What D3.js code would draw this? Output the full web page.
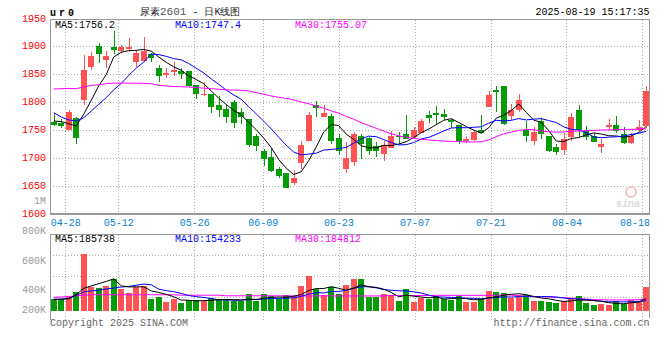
<!DOCTYPE html>
<html>
<head>
<meta charset="utf-8">
<script src="https://cdn.jsdelivr.net/npm/d3@7/dist/d3.min.js"></script>
<style>
  body { margin: 0; background: #fff; }
  svg { display: block; }
  text { font-family: "Liberation Mono", "DejaVu Sans Mono", monospace; font-size: 10px; }
</style>
</head>
<body>
<div id="chart"></div>
<script>
// 尿素2601 daily K-line

// trading days shown
var dates = ["04-24","04-25","04-28","04-29","04-30","05-06","05-07","05-08","05-09","05-12",
  "05-13","05-14","05-15","05-16","05-19","05-20","05-21","05-22","05-23","05-26",
  "05-27","05-28","05-29","05-30","06-03","06-04","06-05","06-06","06-09","06-10",
  "06-11","06-12","06-13","06-16","06-17","06-18","06-19","06-20","06-23","06-24",
  "06-25","06-26","06-27","06-30","07-01","07-02","07-03","07-04","07-07","07-08",
  "07-09","07-10","07-11","07-14","07-15","07-16","07-17","07-18","07-21","07-22",
  "07-23","07-24","07-25","07-28","07-29","07-30","07-31","08-01","08-04","08-05",
  "08-06","08-07","08-08","08-11","08-12","08-13","08-14","08-15","08-18","08-19"];

var opens = [1764.5,1762,1749,1771.6,1804.5,1862.4,1901,1875,1899.4,1892,
  1896,1871.3,1874.3,1886,1861,1849,1854,1855,1855,1831,
  1813,1815,1795.5,1788,1800,1782,1770.5,1739,1712,1701,
  1679,1672.6,1654.6,1690.5,1730,1795.5,1773,1775,1736.4,1679,
  1692,1739.4,1736,1721.5,1706,1716.7,1739.4,1742,1737,1744.8,
  1776.4,1781,1778,1767,1758,1731,1732.8,1750.7,1790.7,1822.4,
  1829.6,1774.6,1786.6,1750.7,1729.9,1765.7,1740,1718.5,1713.7,1737,
  1786.6,1747.8,1740,1719,1754.9,1759.7,1741.8,1726.3,1749,1756.7];

var highs = [1780,1770,1786.5,1773,1884,1889,1906,1891,1928,1903,
  1915,1894,1917,1888,1866,1862,1872,1861,1855,1831,
  1836,1815,1810.5,1795.5,1804,1789.5,1770.5,1742,1715.5,1716.7,
  1683,1672.6,1678.5,1730,1782.4,1801.5,1795.5,1779,1742,1727.5,
  1746.6,1742,1738,1728.6,1730,1747.7,1746.6,1776.4,1756,1770.5,
  1783.6,1792.5,1788,1770.5,1758,1740,1750,1776.4,1820.6,1829.6,
  1829.6,1797.3,1815.2,1765.7,1755.5,1771.6,1740,1724,1743.6,1780.6,
  1794.3,1756.7,1744.8,1733,1770.5,1774.6,1755,1744.8,1768.7,1828.4];

var lows = [1757,1754,1749,1724,1794.3,1858,1870,1861,1886,1887.5,
  1889,1863,1874,1872,1835.5,1843,1846,1842,1826.5,1806,
  1810.5,1781,1773,1763,1754,1761.5,1719,1713,1685,1673.6,
  1663,1645,1652,1680,1730,1773,1773,1725,1705,1672.5,
  1685,1697.6,1705,1701,1694,1716.7,1724,1734.6,1736,1744,
  1762.7,1759.7,1767,1753.7,1724,1725.7,1731,1744.8,1790.7,1781.8,
  1759.7,1768.7,1782.4,1728,1722.7,1734.6,1709.6,1704.8,1704.8,1729.9,
  1737,1732.8,1728,1708,1749,1744.8,1725,1724,1747.8,1753.7];

var closes = [1758.5,1757,1782.4,1735.2,1858.2,1883.3,1887,1883,1894,1899.4,
  1899.4,1888.7,1891,1878.5,1847.5,1851.5,1857,1850,1829,1815,
  1815,1790.7,1785,1773,1762,1774,1723,1720.3,1697,1677,
  1666.6,1645.7,1663.6,1722.7,1776.4,1789,1781,1730,1712,1700,
  1742,1724,1712,1712,1722.7,1739.4,1737,1734.6,1749,1765.7,
  1771,1777.6,1773,1764,1731,1734.6,1746,1744.8,1813.4,1817.6,
  1761,1786.6,1804.5,1738.8,1746.6,1741.8,1713,1710,1734.6,1773.4,
  1750.7,1737,1728,1724,1758.5,1747.8,1726.3,1738.8,1756,1819.4];

// moving average lines as drawn
var ma5 = [1766,1765,1761,1757,1778.3,1803.2,1829.2,1849.3,1881.1,1889.3,
  1892.5,1892.8,1894.5,1891.4,1881,1871.4,1863.2,1857,1847,1840.5,
  1833,1819.9,1806.9,1795.7,1785.1,1776.9,1763.4,1750.5,1735.3,1718.3,
  1696.8,1681.3,1670,1675.1,1695,1719.5,1746.5,1759.8,1757.7,1742.4,
  1733,1721.6,1718,1718,1722.5,1722,1724.6,1729.1,1736.5,1745.1,
  1751.5,1759.6,1767.3,1770.3,1763.3,1756,1749.7,1744.1,1754,1771.3,
  1776.6,1784.7,1796.6,1781.7,1767.5,1763.7,1748.9,1730,1729.2,1734.6,
  1736.3,1741.1,1744.7,1742.6,1739.6,1739.1,1736.9,1739.1,1745.5,1756.2];

var ma10 = [1781,1773,1768,1766,1772,1784,1796,1808,1822,1833.5,
  1847.8,1861,1871.9,1886.2,1885.2,1882,1878,1875.8,1869.2,1860.8,
  1852.2,1841.6,1832,1821.4,1812.8,1805,1791.7,1778.7,1765.5,1751.7,
  1736.9,1722.4,1710.3,1705.2,1706.7,1708.2,1713.9,1714.9,1716.4,1718.7,
  1726.3,1734,1738.9,1737.9,1732.5,1727.5,1723.1,1723.6,1727.3,1733.8,
  1736.8,1742.1,1748.2,1753.4,1754.2,1753.8,1754.7,1755.7,1762.2,1767.3,
  1766.3,1767.2,1770.4,1767.9,1769.4,1770.2,1766.8,1763.3,1755.5,1751.1,
  1750,1745,1737.4,1735.9,1737.1,1737.7,1739,1741.9,1744.1,1747.4];

var ma30 = [1823.5,1824,1824.5,1824,1827,1830,1831,1833,1834,1834,
  1834,1834,1833.5,1833,1830,1829,1828,1827.5,1827,1826,
  1825,1824,1823,1822,1821.5,1821,1820,1817,1814,1811,
  1808.5,1806.5,1804,1800,1797,1793,1789,1784,1780,1774,
  1769,1763,1758,1753,1748,1743,1739.6,1736.5,1735,1733,
  1732,1731,1730,1729.5,1729,1728.5,1728.3,1729,1732,1738,
  1743,1746,1749,1751,1750.5,1748,1747,1746,1746.5,1747.5,
  1748,1748.6,1749,1750,1750,1750.5,1751,1751,1751.5,1752];

// volume, thousand lots
var volumes = [338.5,338.5,352,389.5,642.5,419,414,428,475,407.6,
  383,419,425.8,340.5,354,320.4,338.5,313.7,333.8,333.8,
  329,347,338.5,338.5,325,325,374,325,374,358.6,
  338.5,365.4,360.7,428,495,405.6,365.4,421,374,434.5,
  475,475,354,354,374,365.4,329,407.6,320.4,347,
  338.5,358.6,338.5,333.8,362.7,320.4,320.4,347,396,389.5,
  380.8,347,365.4,365.4,329,329,320.4,313.7,329,347,
  358.6,313.7,300,307,300,329,307,333.8,329,421];

var volMa5 = [338.5,339,342,370,412.2,428.3,443.4,458.6,475.7,428.7,
  421.5,422.5,422.1,395.2,384.5,371.9,355.8,333.4,332.1,328,
  329.8,331.5,336.4,337.4,335.6,334.8,340.2,337.5,344.6,351.3,
  354,352.3,359.4,370.2,397.5,410.9,410.9,423,412.2,400.1,
  414,435.9,422.5,418.5,406.4,384.5,355.3,366,359.3,353.9,
  348.5,354.4,340.6,343.3,346.4,342.8,335.2,336.9,349.3,354.7,
  366.7,372.1,375.7,369.6,357.5,347.2,341.8,331.5,324.2,327.8,
  333.7,332.4,329.7,325.3,315.9,309.9,308.6,315.4,319.8,344];

var volMa10 = [338,340,345,365,389,395,400,408,414,420.5,
  424.9,433,440.4,435.5,406.6,396.7,389.2,377.8,363.7,356.3,
  350.9,343.7,334.9,334.8,331.8,332.3,335.9,337,341,343.5,
  344.4,346.3,348.5,357.4,374.4,382.5,381.6,391.2,391.2,398.8,
  412.5,423.4,422.8,415.4,403.3,399.3,395.6,394.3,388.9,380.2,
  366.5,354.9,353.3,351.3,350.2,345.7,344.8,338.8,346.3,350.6,
  354.8,353.7,356.3,359.5,356.1,357,357,353.6,346.9,342.7,
  340.5,337.1,330.6,324.8,321.9,321.8,320.5,322.6,322.6,330];

var volMa30 = [352,354,357,362,366,369,369,369,369,369,
  369,369,369,369,369,369,369,366,366,366,
  366,366,366,362,362,362,362,362,362,362,
  362,361,361,361,361,361,362,361,361,361,
  361,361,361,361,361,364,364,364,364,364,
  364,365,365,365,365,365,365,365,365,365,
  370,366,362,358,356,355,354,352,349,346,
  343,340,337,335,334,334,334,335,336,338];

var priceTicks = [1600,1650,1700,1750,1800,1850,1900,1950];
var priceGrid = [1650,1700,1750,1800,1850,1900];
var volTicks = [200,400,600,800,1000];
var dateTicks = ["04-28","05-12","05-26","06-09","06-23","07-07","07-21","08-04","08-18"];

var mono = "Liberation Mono, DejaVu Sans Mono, monospace";
var upColor = "#ff5353";
var downColor = "#079b07";

// panel edges
var left = 50, right = 649.5;
var mainTop = 19.5, mainBottom = 213.5;
var volTop = 234.5, volBottom = 317.5, volBase = 311;

var svg = d3.select("#chart")
  .append("svg")
  .attr("width", 660)
  .attr("height", 360);

// scales
var xBand = d3.scaleBand().domain(dates).range([50, 650]).paddingInner(0.2).paddingOuter(0.1);
var xGrid = d3.scalePoint().domain(dates).range([50, 650]);
var yPrice = d3.scaleLinear().domain([1600, 1950]).range([213.5, 18.5]);
var yVol = d3.scaleLinear().domain([262, 1000]).range([310.7, 200.7]);

function xLeft(d) { return Math.round(xBand(d)); }
function xMid(i) { return xBand(dates[i]) + xBand.bandwidth() / 2; }

// grid lines
var grid = svg.append("g")
  .attr("stroke", "#aaa")
  .attr("stroke-dasharray", "1,2")
  .attr("shape-rendering", "crispEdges");

grid.selectAll("line.hp").data(priceGrid).enter()
  .append("line")
  .attr("x1", left).attr("x2", right)
  .attr("y1", function(d) { return Math.round(yPrice(d)) + 0.5; })
  .attr("y2", function(d) { return Math.round(yPrice(d)) + 0.5; });

grid.selectAll("line.hv").data([0.25, 0.5, 0.75]).enter()
  .append("line")
  .attr("x1", left).attr("x2", right)
  .attr("y1", function(f) { return Math.round(volTop + (volBottom - volTop) * f) + 0.5; })
  .attr("y2", function(f) { return Math.round(volTop + (volBottom - volTop) * f) + 0.5; });

grid.selectAll("line.vm").data(dateTicks).enter()
  .append("line")
  .attr("x1", function(d) { return Math.round(xGrid(d)) + 0.5; })
  .attr("x2", function(d) { return Math.round(xGrid(d)) + 0.5; })
  .attr("y1", mainTop).attr("y2", mainBottom);

grid.selectAll("line.vv").data(dateTicks).enter()
  .append("line")
  .attr("x1", function(d) { return Math.round(xGrid(d)) + 0.5; })
  .attr("x2", function(d) { return Math.round(xGrid(d)) + 0.5; })
  .attr("y1", volTop).attr("y2", volBottom + 2);

// panel frames
var frame = svg.append("g")
  .attr("fill", "none")
  .attr("stroke", "#999")
  .attr("shape-rendering", "crispEdges");
frame.append("path").attr("d", "M" + left + "," + mainBottom + "V" + mainTop + "H" + right + "V" + mainBottom);
frame.append("path").attr("d", "M" + left + "," + mainBottom + "H" + right).attr("stroke-width", 2);
frame.append("path").attr("d", "M" + left + "," + (volBottom + 2) + "V" + volTop + "H" + right + "V" + volBottom);

// candles
var candles = dates.map(function(d, i) {
  return { date: d, o: opens[i], h: highs[i], l: lows[i], c: closes[i] };
});
function candleColor(d) { return d.c >= d.o ? upColor : downColor; }

var cg = svg.append("g").attr("shape-rendering", "crispEdges");
cg.selectAll("rect.wick").data(candles).enter()
  .append("rect")
  .attr("x", function(d) { return xLeft(d.date) + 3; })
  .attr("width", 1)
  .attr("y", function(d) { return Math.round(yPrice(d.h)); })
  .attr("height", function(d) { return Math.max(1, Math.round(yPrice(d.l)) - Math.round(yPrice(d.h))); })
  .attr("fill", candleColor);

cg.selectAll("rect.body").data(candles).enter()
  .append("rect")
  .attr("x", function(d) { return xLeft(d.date); })
  .attr("width", 6)
  .attr("y", function(d) { return Math.round(yPrice(Math.max(d.o, d.c))); })
  .attr("height", function(d) {
    return Math.max(1, Math.round(yPrice(Math.min(d.o, d.c))) - Math.round(yPrice(Math.max(d.o, d.c))));
  })
  .attr("fill", candleColor);

// price MA lines
var priceLine = d3.line()
  .x(function(v, i) { return xMid(i); })
  .y(function(v) { return yPrice(v); });
[[ma5, "#000"], [ma10, "#0000ff"], [ma30, "#ff00ff"]].forEach(function(s) {
  svg.append("path")
    .attr("d", priceLine(s[0]))
    .attr("fill", "none")
    .attr("stroke", s[1])
    .attr("stroke-width", 1);
});

// volume bars
svg.append("g").attr("shape-rendering", "crispEdges")
  .selectAll("rect").data(volumes).enter()
  .append("rect")
  .attr("x", function(v, i) { return xLeft(dates[i]); })
  .attr("width", 6)
  .attr("y", function(v) { return Math.round(yVol(v)); })
  .attr("height", function(v) { return volBase - Math.round(yVol(v)); })
  .attr("fill", function(v, i) { return candleColor(candles[i]); });

var volLine = d3.line()
  .x(function(v, i) { return xMid(i); })
  .y(function(v) { return yVol(v); });
[[volMa30, "#ff00ff"], [volMa10, "#0000ff"], [volMa5, "#000"]].forEach(function(s) {
  svg.append("path")
    .attr("d", volLine(s[0]))
    .attr("fill", "none")
    .attr("stroke", s[1])
    .attr("stroke-width", 1);
});

// axes
var yAxis = d3.axisLeft(yPrice).tickValues(priceTicks).tickSize(0).tickPadding(4).tickFormat(d3.format("d"));
var gy = svg.append("g").attr("transform", "translate(" + left + ",0)").call(yAxis);
gy.select(".domain").remove();
gy.attr("font-family", mono).attr("font-size", 10);
gy.selectAll("text").attr("fill", "#f00").attr("dy", "0.25em");

var vAxis = d3.axisLeft(yVol).tickValues(volTicks).tickSize(0).tickPadding(4)
  .tickFormat(function(v) { return v >= 1000 ? (v / 1000) + "M" : v + "K"; });
var gv = svg.append("g").attr("transform", "translate(" + left + ",0)").call(vAxis);
gv.select(".domain").remove();
gv.attr("font-family", mono).attr("font-size", 10);
gv.selectAll(".tick").attr("transform", function(v) { return "translate(0," + Math.min(yVol(v), 310) + ")"; });
gv.selectAll("text").attr("fill", "#999");

var xAxis = d3.axisBottom(xGrid).tickValues(dateTicks).tickSize(0).tickPadding(5);
var gx = svg.append("g").attr("transform", "translate(0," + mainBottom + ")").call(xAxis);
gx.select(".domain").remove();
gx.attr("font-family", mono).attr("font-size", 10);
gx.selectAll(".tick").each(function(d) {
  var t = d3.select(this).select("text").attr("fill", "#0a7fd4");
  var w = t.node().getComputedTextLength();
  var x = xGrid(d), shift = 0;
  if (x + w / 2 > right) shift = right - (x + w / 2);
  if (x - w / 2 < left) shift = left - (x - w / 2);
  t.attr("x", shift);
});

// header texts
svg.append("text").attr("x", 50).attr("y", 16)
  .attr("font-weight", "bold").attr("font-size", 12).attr("letter-spacing", 3)
  .attr("font-family", "DejaVu Sans Mono, monospace").attr("fill", "#000").text("ur0");

var title = svg.append("text").attr("x", 140).attr("y", 15)
  .attr("font-family", "Noto Sans CJK SC, sans-serif").attr("font-size", 14).attr("fill", "#222");
title.append("tspan").text("尿素");
title.append("tspan").attr("font-family", mono).attr("font-size", 11).attr("fill", "#555").text("2601");
title.append("tspan").text(" - 日K线图");

svg.append("text").attr("x", right).attr("y", 15).attr("text-anchor", "end")
  .attr("fill", "#000").text("2025-08-19 15:17:35");

var maLabels = [["MA5:1756.2", "#000"], ["MA10:1747.4", "#0000ff"], ["MA30:1755.07", "#ff00ff"]];
var volLabels = [["MA5:185738", "#000"], ["MA10:154233", "#0000ff"], ["MA30:184812", "#ff00ff"]];
maLabels.forEach(function(m, i) {
  svg.append("text").attr("x", 55 + i * 120).attr("y", 27.5).attr("fill", m[1]).text(m[0]);
});
volLabels.forEach(function(m, i) {
  svg.append("text").attr("x", 55 + i * 120).attr("y", 242).attr("fill", m[1]).text(m[0]);
});

svg.append("text").attr("x", left).attr("y", 326).attr("fill", "#666").text("Copyright 2025 SINA.COM");
svg.append("text").attr("x", right).attr("y", 326).attr("text-anchor", "end").attr("fill", "#666")
  .text("http://finance.sina.com.cn");

// faint sina watermark
svg.append("circle").attr("cx", 631).attr("cy", 192).attr("r", 5)
  .attr("fill", "none").attr("stroke", "#f2c4c4").attr("stroke-width", 2);
svg.append("text").attr("x", 616).attr("y", 207)
  .attr("font-family", "DejaVu Sans, sans-serif").attr("font-style", "italic").attr("font-weight", "bold")
  .attr("font-size", 15).attr("fill", "#d9d9d9").text("sina");
</script>
</body>
</html>
